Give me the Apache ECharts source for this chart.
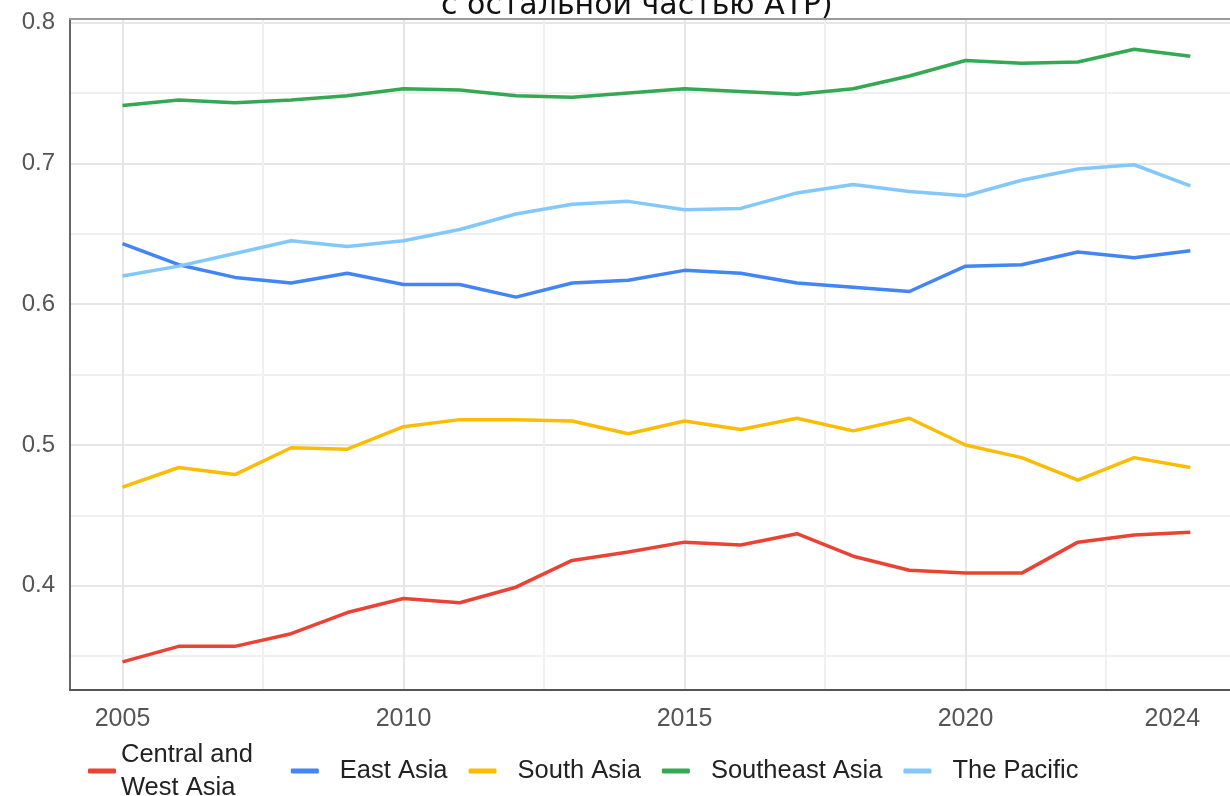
<!DOCTYPE html>
<html lang="ru">
<head>
    <meta charset="utf-8">
    <title>Chart</title>
    <script src="https://cdn.jsdelivr.net/npm/echarts@6/dist/echarts.min.js"></script>
    <style>
        html, body { margin: 0; padding: 0; background: #fff; }
        #chart { width: 1230px; height: 796px; }
    </style>
</head>
<body>
<div id="chart"></div>
<script>
    // data
    var years = [2005, 2006, 2007, 2008, 2009, 2010, 2011, 2012, 2013, 2014,
                 2015, 2016, 2017, 2018, 2019, 2020, 2021, 2022, 2023, 2024];
    var centralWest = [0.346, 0.357, 0.357, 0.366, 0.381, 0.391, 0.388, 0.399, 0.418, 0.424,
                       0.431, 0.429, 0.437, 0.421, 0.411, 0.409, 0.409, 0.431, 0.436, 0.438];
    var eastAsia = [0.643, 0.628, 0.619, 0.615, 0.622, 0.614, 0.614, 0.605, 0.615, 0.617,
                    0.624, 0.622, 0.615, 0.612, 0.609, 0.627, 0.628, 0.637, 0.633, 0.638];
    var southAsia = [0.470, 0.484, 0.479, 0.498, 0.497, 0.513, 0.518, 0.518, 0.517, 0.508,
                     0.517, 0.511, 0.519, 0.510, 0.519, 0.500, 0.491, 0.475, 0.491, 0.484];
    var southeastAsia = [0.741, 0.745, 0.743, 0.745, 0.748, 0.753, 0.752, 0.748, 0.747, 0.750,
                         0.753, 0.751, 0.749, 0.753, 0.762, 0.773, 0.771, 0.772, 0.781, 0.776];
    var pacific = [0.620, 0.627, 0.636, 0.645, 0.641, 0.645, 0.653, 0.664, 0.671, 0.673,
                   0.667, 0.668, 0.679, 0.685, 0.680, 0.677, 0.688, 0.696, 0.699, 0.684];

    var xLabels = [2005, 2010, 2015, 2020, 2024];
    var xGrid = [2005, 2007.5, 2010, 2012.5, 2015, 2017.5, 2020, 2022.5];
    var yLabels = [0.4, 0.5, 0.6, 0.7, 0.8];
    var yGrid = [0.35, 0.4, 0.45, 0.5, 0.55, 0.6, 0.65, 0.7, 0.75, 0.8];

    var seriesNames = ['Central and West Asia', 'East Asia', 'South Asia', 'Southeast Asia', 'The Pacific'];
    var seriesValues = [centralWest, eastAsia, southAsia, southeastAsia, pacific];
    var colors = ['#ea4335', '#4285f4', '#fbbc04', '#34a853', '#83c8fa'];

    function pairs(vals) {
        return years.map(function (y, i) { return [y, vals[i]]; });
    }

    var font = '"Liberation Sans", Arial, sans-serif';
    var chart = echarts.init(document.getElementById('chart'));

    chart.setOption({
        animation: false,
        color: colors,
        title: {
            text: 'с остальной частью АТР)',
            left: 441,
            top: -9,
            padding: 0,
            textStyle: { fontFamily: '"DejaVu Sans", sans-serif', fontWeight: 'normal', fontSize: 30, color: '#111' }
        },
        grid: { left: 70, right: 0, top: 19, bottom: 106 },
        legend: {
            left: 83,
            top: 733,
            icon: 'roundRect',
            itemWidth: 28,
            itemHeight: 5,
            itemGap: 21,
            textStyle: { fontFamily: font, fontSize: 25.5, color: '#222', lineHeight: 33 },
            formatter: function (name) {
                return name === 'Central and West Asia' ? 'Central and\nWest Asia' : name;
            },
            data: seriesNames.map(function (n, i) {
                return {
                    name: n,
                    textStyle: { padding: i === 0 ? [0, 17, 0, 0] : [0, 0, 0, 16] }
                };
            })
        },
        xAxis: [{
            type: 'value',
            min: 2004.066,
            max: 2024.706,
            axisLine: { show: true, lineStyle: { color: '#555', width: 2 } },
            axisTick: { show: false, customValues: xGrid },
            axisLabel: {
                customValues: xLabels,
                margin: 17,
                fontFamily: font, fontSize: 25, color: '#555',
                formatter: function (v) {
                    var s = String(Math.round(v));
                    return v === 2024 ? '{last|' + s + '}' : s;
                },
                rich: { last: { fontFamily: font, fontSize: 25, color: '#555', padding: [0, 36, 0, 0] } }
            },
            splitLine: { show: true, lineStyle: { color: ['#e6e6e6', '#f0f0f0'], width: 2 } }
        }, {
            type: 'value',
            position: 'top',
            min: 2004.066,
            max: 2024.706,
            axisLine: { show: true, lineStyle: { color: '#999', width: 2 } },
            axisTick: { show: false },
            axisLabel: { show: false },
            splitLine: { show: false }
        }],
        yAxis: {
            type: 'value',
            min: 0.326,
            max: 0.8025,
            axisLine: { show: true, lineStyle: { color: '#666', width: 2 } },
            axisTick: { show: false, customValues: yGrid },
            axisLabel: {
                customValues: yLabels,
                margin: 15,
                fontFamily: font, fontSize: 24, color: '#555',
                formatter: function (v) { return v.toFixed(1); }
            },
            splitLine: { show: true, lineStyle: { color: ['#f0f0f0', '#e6e6e6'], width: 2 } }
        },
        series: seriesNames.map(function (n, i) {
            return {
                name: n,
                type: 'line',
                xAxisIndex: 0,
                data: pairs(seriesValues[i]),
                symbol: 'none',
                lineStyle: { width: 3.5 }
            };
        })
    });
</script>
</body>
</html>
